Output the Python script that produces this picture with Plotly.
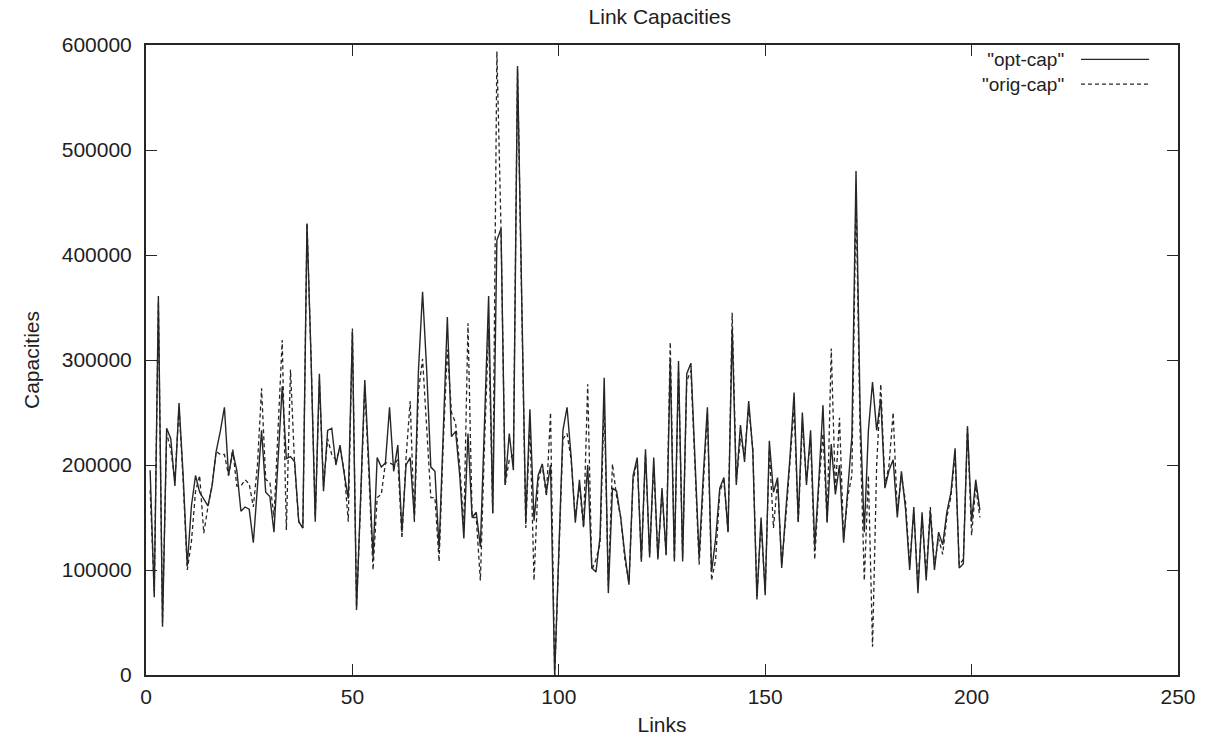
import plotly.graph_objects as go

links = list(range(1, 203))

opt_cap = [
    195000, 74000, 361000, 46000, 235000, 225000, 180000, 259000, 190000, 104000,
    161000, 190000, 174000, 168000, 161000, 180000, 213000, 232000, 255000, 190000,
    213000, 195000, 156000, 160000, 158000, 126000, 180000, 233000, 174000, 170000,
    136000, 210000, 275000, 206000, 208000, 203000, 146000, 140000, 430000, 300000,
    146000, 287000, 175000, 233000, 235000, 200000, 219000, 192000, 168000, 327000,
    62000, 170000, 281000, 200000, 112000, 207000, 198000, 202000, 255000, 194000,
    219000, 136000, 200000, 207000, 150000, 290000, 365000, 290000, 198000, 194000,
    120000, 230000, 341000, 227000, 232000, 190000, 130000, 230000, 150000, 155000,
    122000, 240000, 361000, 154000, 414000, 425000, 181000, 230000, 195000, 580000,
    360000, 146000, 253000, 147000, 190000, 201000, 174000, 200000, 0, 120000,
    233000, 255000, 207000, 145000, 186000, 142000, 200000, 102000, 98000, 132000,
    283000, 78000, 178000, 175000, 150000, 115000, 86000, 190000, 207000, 108000,
    215000, 112000, 207000, 110000, 178000, 114000, 300000, 108000, 299000, 108000,
    287000, 297000, 200000, 112000, 190000, 255000, 98000, 130000, 178000, 188000,
    136000, 330000, 181000, 238000, 203000, 261000, 213000, 72000, 150000, 76000,
    223000, 174000, 188000, 102000, 157000, 207000, 269000, 146000, 250000, 181000,
    233000, 122000, 186000, 257000, 146000, 220000, 172000, 200000, 126000, 178000,
    227000, 480000, 250000, 136000, 233000, 279000, 233000, 263000, 178000, 195000,
    205000, 150000, 194000, 158000, 100000, 160000, 78000, 155000, 90000, 156000,
    100000, 136000, 124000, 155000, 174000, 216000, 102000, 106000, 237000, 146000,
    186000, 157000,
]

orig_cap = [
    176000, 80000, 355000, 50000, 230000, 215000, 185000, 255000, 185000, 100000,
    127000, 175000, 190000, 135000, 160000, 180000, 213000, 210000, 210000, 190000,
    215000, 180000, 180000, 186000, 182000, 160000, 200000, 273000, 186000, 184000,
    150000, 230000, 319000, 138000, 291000, 200000, 146000, 140000, 430000, 300000,
    150000, 280000, 180000, 225000, 210000, 205000, 215000, 195000, 146000, 330000,
    65000, 165000, 275000, 190000, 100000, 169000, 172000, 202000, 202000, 200000,
    205000, 130000, 207000, 261000, 145000, 270000, 301000, 235000, 169000, 169000,
    108000, 220000, 310000, 250000, 240000, 200000, 140000, 335000, 150000, 150000,
    90000, 220000, 330000, 154000, 594000, 425000, 181000, 205000, 210000, 577000,
    360000, 140000, 240000, 90000, 185000, 200000, 170000, 250000, 0, 120000,
    225000, 230000, 205000, 150000, 180000, 140000, 277000, 100000, 110000, 125000,
    260000, 85000, 201000, 170000, 150000, 110000, 88000, 185000, 205000, 110000,
    210000, 115000, 200000, 112000, 175000, 115000, 317000, 110000, 290000, 112000,
    280000, 290000, 195000, 105000, 180000, 250000, 90000, 110000, 175000, 185000,
    136000, 345000, 185000, 225000, 210000, 255000, 215000, 75000, 145000, 80000,
    215000, 140000, 185000, 105000, 150000, 200000, 255000, 145000, 240000, 185000,
    225000, 110000, 180000, 230000, 145000, 311000, 175000, 245000, 130000, 170000,
    190000, 460000, 230000, 90000, 190000, 27000, 200000, 277000, 180000, 200000,
    250000, 155000, 190000, 165000, 105000, 155000, 85000, 150000, 95000, 160000,
    105000, 130000, 115000, 150000, 170000, 210000, 105000, 110000, 235000, 133000,
    180000, 150000,
]

series_names = ['"opt-cap"', '"orig-cap"']
x_ticks = [0, 50, 100, 150, 200, 250]
y_ticks = [0, 100000, 200000, 300000, 400000, 500000, 600000]

FONT = "Liberation Sans, Arial, sans-serif"
INK = "#262626"
TXT = "#1e1e1e"
FS = 21
KEY_FS = 19

fig = go.Figure()
fig.add_trace(go.Scatter(x=links, y=orig_cap, mode="lines", name=series_names[1],
                         line=dict(color=INK, width=1.3, dash="4px,3px")))
fig.add_trace(go.Scatter(x=links, y=opt_cap, mode="lines", name=series_names[0],
                         line=dict(color=INK, width=1.4)))

axis_common = dict(
    showline=True, linecolor=INK, linewidth=2, mirror="ticks",
    ticks="inside", ticklen=11, tickwidth=1.2, tickcolor=INK,
    showgrid=False, zeroline=False,
    tickfont=dict(family=FONT, size=FS, color=TXT),
)

fig.update_xaxes(range=[0, 250], tickvals=x_ticks, ticktext=[str(v) for v in x_ticks],
                 title=dict(text="Links", font=dict(family=FONT, size=FS, color=TXT), standoff=10),
                 ticklabelstandoff=2,
                 **axis_common)
fig.update_yaxes(range=[0, 600000], tickvals=y_ticks, ticktext=[str(v) for v in y_ticks],
                 title=dict(text="Capacities", font=dict(family=FONT, size=FS, color=TXT), standoff=16),
                 ticklabelstandoff=8,
                 **axis_common)

# gnuplot-style key: labels right-aligned (one text block), sample lines to their right
line_h = 1.3 * KEY_FS / 630.0  # line spacing in paper units
key_center = 0.9575
fig.add_annotation(x=0.891, y=key_center, xref="paper", yref="paper",
                   text="<br>".join(series_names), align="right",
                   showarrow=False, xanchor="right", yanchor="middle",
                   font=dict(family=FONT, size=KEY_FS, color=TXT))
for i, dash in enumerate(["solid", "4px,3px"]):
    yy = key_center + line_h / 2 - i * line_h
    fig.add_shape(type="line", xref="paper", yref="paper", x0=0.906, x1=0.972,
                  y0=yy, y1=yy, line=dict(color=INK, width=1.3, dash=dash))

fig.update_layout(
    width=1214, height=744,
    margin=dict(l=146, r=36, t=45, b=69),
    paper_bgcolor="white", plot_bgcolor="white",
    showlegend=False,
    title=dict(text="Link Capacities", x=0.5435, xanchor="center", y=0.977, yanchor="middle",
               font=dict(family=FONT, size=FS, color=TXT)),
)

fig.write_html("out.html")
